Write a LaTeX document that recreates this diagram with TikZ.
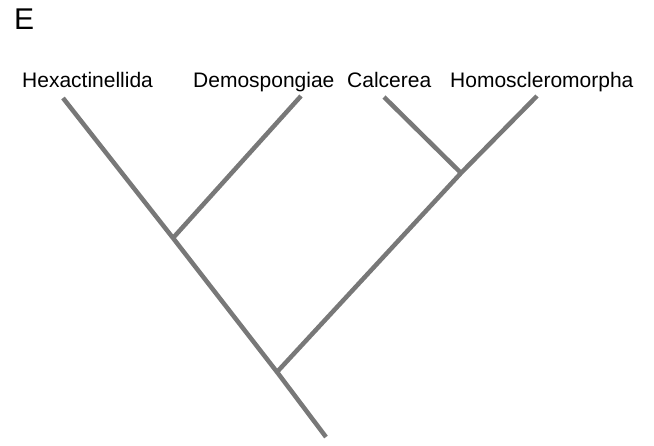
\documentclass[tikz,border=0pt]{standalone}
\usepackage{fontspec}
\setmainfont{Liberation Sans}
\definecolor{branchgray}{RGB}{120,120,120}
\begin{document}
\begin{tikzpicture}[x=1pt,y=-1pt,
  taxon/.style={anchor=base west,inner sep=0pt,font=\fontsize{21}{25}\selectfont},
  branch/.style={draw=branchgray,line width=4.5pt}]
\useasboundingbox (0,0) rectangle (654,445);
% panel letter
\node[anchor=base west,inner sep=0pt,font=\fontsize{30}{36}\selectfont] (panel) at (14,29) {E};
% taxon labels
\node[taxon] (hexl) at (22,87) {Hexactinellida};
\node[taxon] (deml) at (193,87) {Demospongiae};
\node[taxon] (call) at (347,87) {Calcerea};
\node[taxon] (homl) at (450,87) {Homoscleromorpha};
% tips, internal nodes and root
\coordinate (hex) at (63,98);
\coordinate (dem) at (301,96);
\coordinate (cal) at (384,97);
\coordinate (hom) at (537,96);
\coordinate (nA) at (173,238);
\coordinate (nB) at (461,173);
\coordinate (nR) at (277,372);
\coordinate (root) at (326,437);
% branches
\draw[branch] (hex) -- (nA) -- (nR) -- (root);
\draw[branch] (dem) -- (nA);
\draw[branch] (cal) -- (nB);
\draw[branch] (hom) -- (nB) -- (nR);
\end{tikzpicture}
\end{document}
